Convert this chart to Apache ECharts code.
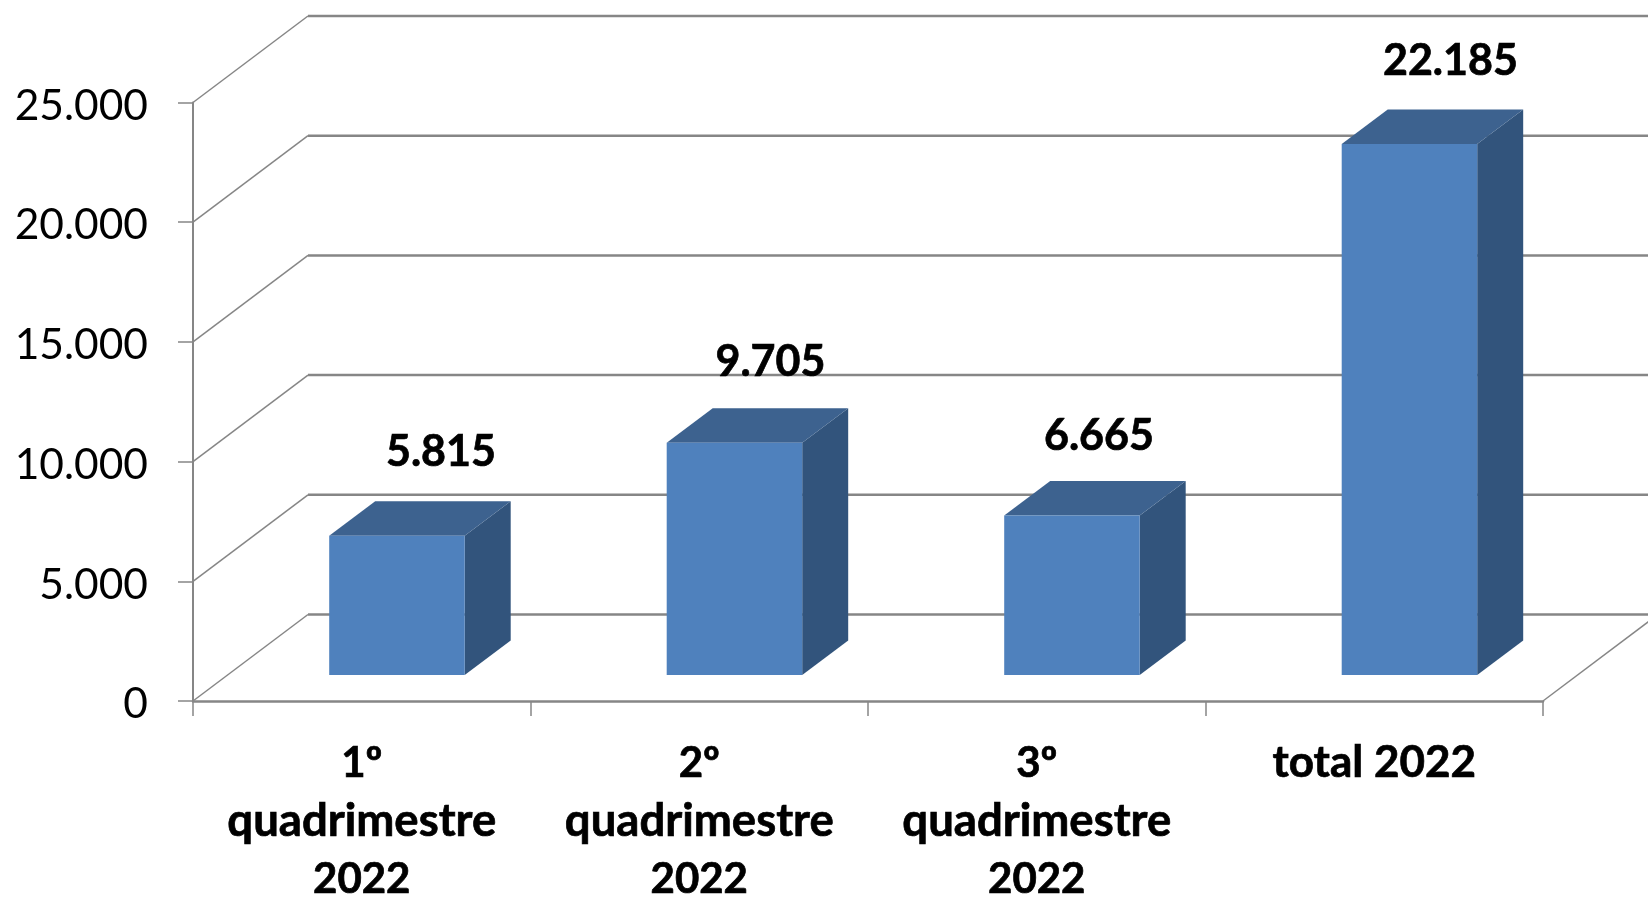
<!DOCTYPE html>
<html><head><meta charset="utf-8">
<style>html,body{margin:0;padding:0;background:#fff}#c{width:1648px;height:897px}</style>
<script src="https://cdn.jsdelivr.net/npm/echarts@6/dist/echarts.min.js"></script>
</head><body><div id="c"></div>
<script>
const categories = ['1º\nquadrimestre\n2022', '2º\nquadrimestre\n2022', '3º\nquadrimestre\n2022', 'total 2022'];
const values = [5815, 9705, 6665, 22185];
const ticks = [0, 5000, 10000, 15000, 20000, 25000];

// 3D look: fixed pixel offsets of the Excel-style projection
const wallDx = 115, wallDy = 86.5;
const barDx = 46, barDy = 34.5, barW = 135.5, barShiftX = 35.2, barShiftY = 26;
const labelNudgeX = [44, 36, 27, 41], labelNudgeY = [-84, -81, -79, -83];
const gridColor = '#868686';
const fmt = v => String(v).replace(/\B(?=(\d{3})+$)/g, '.');
const boldText = { color: '#000', fontFamily: 'Lato', fontWeight: 'bold', textBorderColor: '#000', textBorderWidth: 0.7, lineHeight: 58 };

const chart = echarts.init(document.getElementById('c'));
chart.setOption({
  backgroundColor: '#fff',
  animation: false,
  grid: { left: 193, right: 105, top: 102.5, height: 598.5, outerBoundsMode: 'none' },
  xAxis: {
    type: 'category', data: categories,
    axisLine: { lineStyle: { color: gridColor, width: 2.5 } },
    axisTick: { show: true, length: 15, alignWithLabel: false, lineStyle: { color: gridColor, width: 1.5 } },
    axisLabel: {
      interval: 0, margin: 33, color: '#000', fontFamily: 'Lato', fontWeight: 'bold', fontSize: 44, lineHeight: 58,
      formatter: v => v.split('\n').map(s => `{${s === 'quadrimestre' ? 'q' : s.startsWith('total') ? 't' : 'n'}|${s}}`).join('\n'),
      rich: {
        q: { ...boldText, fontSize: 45.5 },
        n: { ...boldText, fontSize: 42 },
        t: { ...boldText, fontSize: 44 }
      }
    }
  },
  yAxis: {
    type: 'value', min: 0, max: 25000, interval: 5000,
    splitLine: { show: false },
    axisLine: { show: true, lineStyle: { color: gridColor, width: 2 } },
    axisTick: { show: true, length: 15, lineStyle: { color: gridColor, width: 1.5 } },
    axisLabel: {
      margin: 45, color: '#000', fontFamily: 'Lato', fontSize: 42.5, formatter: v => `{v|${fmt(v)}}`,
      rich: { v: { color: '#000', fontFamily: 'Lato', fontSize: 42.5, padding: [7, 0, 0, 0] } }
    }
  },
  series: [
    {
      type: 'custom', z: 1, silent: true,
      data: ticks.map(t => [0, t]),
      renderItem(params, api) {
        const p = api.coord([0, api.value(1)]);
        const left = p[0] - api.size([1, 0])[0] / 2;
        const right = left + api.size([1, 0])[0] * categories.length;
        const y = p[1];
        const children = [
          { type: 'line', shape: { x1: left, y1: y, x2: left + wallDx, y2: y - wallDy }, style: { stroke: gridColor, lineWidth: 1.5 } },
          { type: 'line', shape: { x1: left + wallDx, y1: y - wallDy, x2: 1660, y2: y - wallDy }, style: { stroke: gridColor, lineWidth: 2.5 } }
        ];
        if (api.value(1) === ticks[0]) {
          children.push({
            type: 'line',
            shape: { x1: right, y1: y, x2: right + wallDx, y2: y - wallDy },
            style: { stroke: gridColor, lineWidth: 1.5 }
          });
        }
        return { type: 'group', children };
      }
    },
    {
      type: 'custom', z: 3, silent: true,
      data: values.map((v, i) => [i, v]),
      renderItem(params, api) {
        const i = api.value(0);
        const top = api.coord([i, api.value(1)]);
        const base = api.coord([i, 0]);
        const x0 = top[0] + barShiftX - barW / 2, x1 = x0 + barW;
        const yT = top[1] - barShiftY, yB = base[1] - barShiftY;
        return {
          type: 'group',
          children: [
            { type: 'polygon', shape: { points: [[x1, yT], [x1 + barDx, yT - barDy], [x1 + barDx, yB - barDy], [x1, yB]] }, style: { fill: '#32547C' } },
            { type: 'polygon', shape: { points: [[x0, yT], [x0 + barDx, yT - barDy], [x1 + barDx, yT - barDy], [x1, yT]] }, style: { fill: '#3D628F' } },
            { type: 'rect', shape: { x: x0, y: yT, width: barW, height: yB - yT }, style: { fill: '#4F81BD' } },
            {
              type: 'text', z2: 10,
              x: top[0] + barShiftX + labelNudgeX[i],
              y: yT + labelNudgeY[i],
              style: { text: fmt(api.value(1)), fill: '#000', stroke: '#000', lineWidth: 0.7, font: 'bold 43px Lato', align: 'center', verticalAlign: 'middle' }
            }
          ]
        };
      }
    }
  ]
});
</script></body></html>
